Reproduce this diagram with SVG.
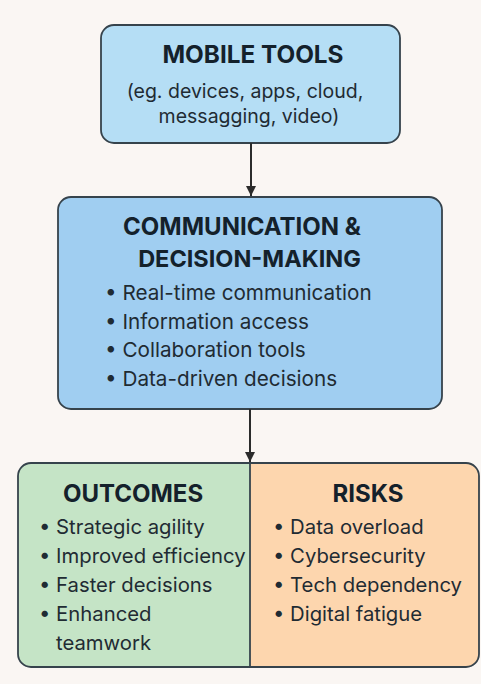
<svg xmlns="http://www.w3.org/2000/svg" width="481" height="684" viewBox="0 0 481 684">
  <style>
    .box { stroke: #36434c; stroke-width: 1.8; }
    .title { font-family: Inter, "Liberation Sans", sans-serif; font-weight: 700; fill: #14212b; text-anchor: middle; }
    .body { font-family: Inter, "Liberation Sans", sans-serif; font-weight: 400; fill: #1f2b33; }
    .sub { font-family: Inter, "Liberation Sans", sans-serif; font-weight: 400; fill: #1f2b33; text-anchor: middle; }
    .edge { stroke: #2b2b2b; stroke-width: 2; fill: none; }
  </style>
  <defs>
    <marker id="arrow" viewBox="0 0 10 10" refX="10" refY="5" markerWidth="5" markerHeight="5" orient="auto" markerUnits="strokeWidth">
      <path d="M0,0 L10,5 L0,10 z" fill="#2b2b2b"/>
    </marker>
  </defs>

  <rect width="481" height="684" fill="#faf6f3"/>

  <!-- source node -->
  <g id="mobile-tools">
    <rect class="box" x="101" y="25" width="299" height="118" rx="13" fill="#b5def5"/>
    <text class="title" x="253" y="63" font-size="24.3">MOBILE TOOLS</text>
    <text class="sub" x="245" y="98" font-size="19.5">(eg. devices, apps, cloud,</text>
    <text class="sub" x="249" y="123" font-size="19.5">messagging, video)</text>
  </g>

  <!-- central node -->
  <g id="communication">
    <rect class="box" x="58" y="197" width="384" height="212" rx="13" fill="#a0cef1"/>
    <text class="title" x="242" y="235" font-size="24">COMMUNICATION &amp;</text>
    <text class="title" x="249.5" y="267" font-size="23.5">DECISION-MAKING</text>
    <g class="body" font-size="20.7">
      <text x="105" y="300">• Real-time communication</text>
      <text x="105" y="328.5">• Information access</text>
      <text x="105" y="357">• Collaboration tools</text>
      <text x="105" y="385.5">• Data-driven decisions</text>
    </g>
  </g>

  <!-- split result node -->
  <g id="results">
    <path d="M250,463 H31 A13,13 0 0 0 18,476 V654 A13,13 0 0 0 31,667 H250 Z" fill="#c5e4c6"/>
    <path d="M250,463 H466 A13,13 0 0 1 479,476 V654 A13,13 0 0 1 466,667 H250 Z" fill="#fdd6ae"/>
    <rect class="box" x="18" y="463" width="461" height="204" rx="13" fill="none"/>
    <line class="box" x1="250" y1="463" x2="250" y2="667"/>
  </g>

  <g id="outcomes">
    <text class="title" x="133" y="502" font-size="24">OUTCOMES</text>
    <g class="body" font-size="20.3">
      <text x="39" y="534">• Strategic agility</text>
      <text x="39" y="563">• Improved efficiency</text>
      <text x="39" y="592">• Faster decisions</text>
      <text x="39" y="621">• Enhanced</text>
      <text x="56" y="650">teamwork</text>
    </g>
  </g>

  <g id="risks">
    <text class="title" x="368" y="502" font-size="24">RISKS</text>
    <g class="body" font-size="20.3">
      <text x="273" y="534">• Data overload</text>
      <text x="273" y="563">• Cybersecurity</text>
      <text x="273" y="592">• Tech dependency</text>
      <text x="273" y="621">• Digital fatigue</text>
    </g>
  </g>

  <!-- connectors -->
  <g id="connectors">
    <line class="edge" x1="251" y1="143" x2="251" y2="196" marker-end="url(#arrow)"/>
    <line class="edge" x1="250" y1="409" x2="250" y2="462" marker-end="url(#arrow)"/>
  </g>
</svg>
